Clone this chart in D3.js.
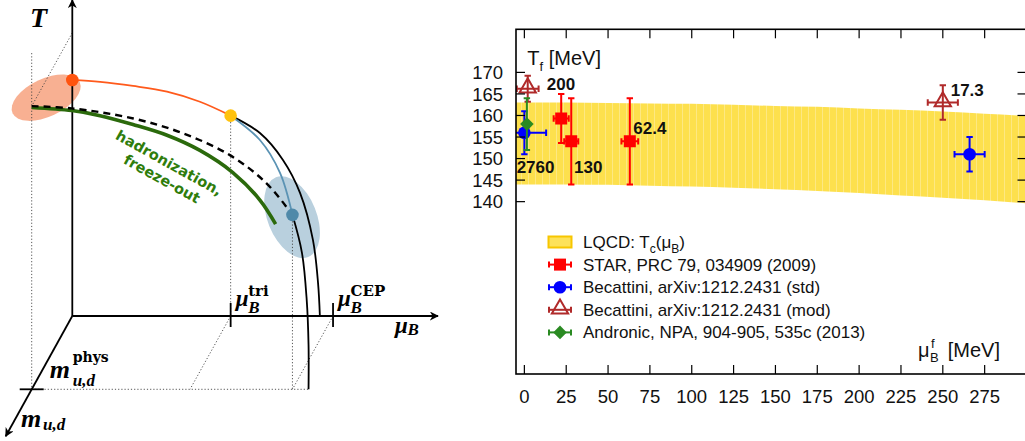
<!DOCTYPE html>
<html>
<head>
<meta charset="utf-8">
<script src="https://cdn.jsdelivr.net/npm/d3@7"></script>
<style>
body { margin: 0; background: #fff; }
svg { display: block; }
</style>
</head>
<body>
<div class="phase-div"></div>
<script>
//--------------------------- Data: right panel (freeze-out points)

var bandMu = [-5, 25, 50, 75, 100, 125, 150, 175, 200, 225, 250, 275, 300];
var bandHi = [163, 163, 162.9, 162.8, 162.7, 162.5, 162.2, 162, 161.6, 161.3, 160.9, 160.4, 159.9];
var bandLo = [144, 144, 143.9, 143.7, 143.5, 143.2, 142.9, 142.5, 142, 141.4, 140.9, 140.3, 139.6];

var starMu = [22, 28, 63];
var starT = [159.3, 154, 154];
var starTErr = [5.7, 10, 10];
var starMuErr = [4.5, 4.2, 5];

var becStdMu = [0, 266];
var becStdT = [156, 151];
var becStdTErr = [5, 4];
var becStdMuErr = [13, 9];

var becModMu = [2, 250];
var becModT = [166.2, 163];
var becModTErr = [3, 4];
var becModMuErr = [6.5, 9];

var andMu = [1.5];
var andT = [158];
var andTErr = [6];
var andMuErr = [0];

var energyText = ["200", "2760", "130", "62.4", "17.3"];
var energyMu = [13.4, -4.6, 29.7, 65.1, 254.7];
var energyT = [165.8, 146.7, 146.7, 155.8, 164.5];

var xTicks = [0, 25, 50, 75, 100, 125, 150, 175, 200, 225, 250, 275];
var yTicks = [140, 145, 150, 155, 160, 165, 170];

var legendNames = ["LQCD", "STAR, PRC 79, 034909 (2009)", "Becattini, arXiv:1212.2431 (std)",
    "Becattini, arXiv:1212.2431 (mod)", "Andronic, NPA, 904-905, 535c (2013)"];

//--------------------------- Data: left panel (schematic, [muB, T, m] in sketch units)

var orangeCurve = [[0, 74.7], [7.6, 74.1], [16.6, 72.8], [25.9, 71.0], [34.9, 67.8], [43.3, 63.4]];
var firstOrderChiral = [[43.3, 63.4], [51.3, 57.9], [57.6, 49.4], [62.3, 38.9], [65.8, 24.1], [67.2, 10.4], [67.7, 0]];
var wingLine = [[43.3, 63.4], [51.3, 55.7], [56.8, 45.3], [60.2, 32.0]];
var crossover = [[0, 89.6, 1], [10.9, 88.9, 1], [27.8, 85.7, 1], [41.4, 81.0, 1], [54.2, 74.1, 1], [64.2, 65.2, 1], [71.3, 55.2, 1]];
var freezeOut = [[0, 89.2, 1], [11.0, 88.2, 1], [18.7, 86.6, 1], [27.7, 83.8, 1], [37.0, 80.4, 1], [46.0, 75.6, 1], [55.0, 68.6, 1], [62.4, 59.9, 1], [66.7, 52.3, 1]];
var firstOrderPhys = [[71.3, 55.2, 1], [73.9, 43.2, 1], [75.2, 28.3, 1], [75.7, 14.1, 1], [75.7, 0, 1]];

var redDot = [0, 74.7, 0];
var yellowDot = [43.3, 63.4, 0];
var blueDot = [71.3, 55.2, 1];
var muTri = 43.3;
var muCEP = 71.3;

//--------------------------- SVG definition

var width = 1025;
var height = 441;

var svg = d3.select("div.phase-div")
    .append("svg")
    .attr("width", width)
    .attr("height", height)

svg.append("rect").attr("width", width).attr("height", height).attr("fill", "#fff");

//=========================== LEFT PANEL

var sx = d3.scaleLinear().domain([0, 100]).range([72.3, 438]);
var sy = d3.scaleLinear().domain([0, 100]).range([316, 0]);
var mx = d3.scaleLinear().domain([0, 1]).range([0, -40.6]);
var my = d3.scaleLinear().domain([0, 1]).range([0, 73.3]);

function proj(p) {
    var m = p[2] || 0;
    return [sx(p[0]) + mx(m), sy(p[1]) + my(m)];
}

var curve = d3.line()
    .x(function (d) { return proj(d)[0]; })
    .y(function (d) { return proj(d)[1]; })
    .curve(d3.curveCatmullRom);

var left = svg.append("g");

var defs = svg.append("defs");
defs.append("marker")
    .attr("id", "arrow")
    .attr("viewBox", "0 0 10 10")
    .attr("refX", 9).attr("refY", 5)
    .attr("markerWidth", 5).attr("markerHeight", 5)
    .attr("orient", "auto")
    .append("path")
    .attr("d", "M0,0 L10,5 L0,10 L3,5 Z")
    .attr("fill", "#000");

//--------------- ellipses (behind everything)

var oc = proj([-1.6, 80.7, 0.5]);
left.append("ellipse")
    .attr("cx", 0).attr("cy", 0).attr("rx", 37).attr("ry", 19)
    .attr("transform", "translate(" + oc[0] + "," + oc[1] + ") rotate(-25)")
    .attr("fill", "#f8b092");

var bc = proj([71.2, 54.5, 1]);
left.append("ellipse")
    .attr("cx", 0).attr("cy", 0).attr("rx", 24.5).attr("ry", 43)
    .attr("transform", "translate(" + bc[0] + "," + bc[1] + ") rotate(-22)")
    .attr("fill", "#b9d0de");

//--------------- dotted guide lines

var dotted = [
    [[0, 89.6, 0], [0, 89.6, 1]],
    [[0, 106.4, 1], [0, 0, 1]],
    [yellowDot, [muTri, 0, 0]],
    [[muTri, 0, 0], [muTri, 0, 1]],
    [blueDot, [muCEP, 0, 1]],
    [[muCEP, 0, 0], [muCEP, 0, 1]],
    [[0, 0, 1], [75.7, 0, 1]]
];
dotted.forEach(function (seg) {
    var a = proj(seg[0]), b = proj(seg[1]);
    left.append("line")
        .attr("x1", a[0]).attr("y1", a[1]).attr("x2", b[0]).attr("y2", b[1])
        .attr("stroke", "#444").attr("stroke-width", 0.9)
        .attr("stroke-dasharray", "1.2,2");
});

//--------------- axes

var o = proj([0, 0, 0]);
var tTop = proj([0, 100, 0]);
var muEnd = proj([100, 0, 0]);
var mEnd = proj([0, 0, 1.64]);

[[o, tTop], [o, muEnd], [o, mEnd]].forEach(function (ax) {
    left.append("line")
        .attr("x1", ax[0][0]).attr("y1", ax[0][1])
        .attr("x2", ax[1][0]).attr("y2", ax[1][1])
        .attr("stroke", "#000").attr("stroke-width", 1.8)
        .attr("marker-end", "url(#arrow)");
});

// ticks on the axes
[muTri, muCEP].forEach(function (mu) {
    var p = proj([mu, 0, 0]);
    left.append("line")
        .attr("x1", p[0]).attr("x2", p[0])
        .attr("y1", p[1] - 13).attr("y2", p[1] + 11)
        .attr("stroke", "#000").attr("stroke-width", 1.8);
});
var pm = proj([0, 0, 1]);
left.append("line")
    .attr("x1", pm[0] - 12).attr("x2", pm[0] + 12)
    .attr("y1", pm[1]).attr("y2", pm[1])
    .attr("stroke", "#000").attr("stroke-width", 1.8);

//--------------- curves

left.append("path").attr("d", curve(freezeOut))
    .attr("fill", "none").attr("stroke", "#2b6a0c").attr("stroke-width", 3.6);

left.append("path").attr("d", curve(crossover))
    .attr("fill", "none").attr("stroke", "#000").attr("stroke-width", 2.4)
    .attr("stroke-dasharray", "7,5");

left.append("path").attr("d", curve(orangeCurve))
    .attr("fill", "none").attr("stroke", "#ff5a1c").attr("stroke-width", 1.8);

left.append("path").attr("d", curve(firstOrderChiral))
    .attr("fill", "none").attr("stroke", "#000").attr("stroke-width", 1.8);

left.append("path").attr("d", curve(firstOrderPhys))
    .attr("fill", "none").attr("stroke", "#000").attr("stroke-width", 1.8);

left.append("path").attr("d", curve(wingLine))
    .attr("fill", "none").attr("stroke", "#5b93b4").attr("stroke-width", 1.8);

//--------------- dots

[[redDot, "#ff5410"], [yellowDot, "#ffc20e"], [blueDot, "#4f89a9"]].forEach(function (d) {
    var p = proj(d[0]);
    left.append("circle").attr("cx", p[0]).attr("cy", p[1]).attr("r", 6.3).attr("fill", d[1]);
});

//--------------- labels

var serif = "'Liberation Serif', 'DejaVu Serif', serif";
var serifUp = "'DejaVu Serif', serif";

left.append("text").attr("x", 30).attr("y", 27)
    .attr("font-family", serif).attr("font-style", "italic").attr("font-weight", "bold")
    .attr("font-size", 28).text("T");

function muLabel(x, y, sup) {
    left.append("text").attr("x", x).attr("y", y)
        .attr("font-family", serif).attr("font-style", "italic").attr("font-weight", "bold")
        .attr("font-size", 23).text("\u03bc");
    var p = x + 12.5;
    left.append("text").attr("x", p).attr("y", y + 7)
        .attr("font-family", serif).attr("font-style", "italic").attr("font-weight", "bold")
        .attr("font-size", 17).text("B");
    if (sup) {
        left.append("text").attr("x", p).attr("y", y - 10)
            .attr("font-family", serifUp).attr("font-weight", "bold")
            .attr("font-size", 15).text(sup);
    }
}
var tp = proj([muTri, 0, 0]);
muLabel(tp[0] + 5, tp[1] - 10, "tri");
var cp = proj([muCEP, 0, 0]);
muLabel(cp[0] + 5, cp[1] - 10, "CEP");

left.append("text").attr("x", 395).attr("y", 333)
    .attr("font-family", serif).attr("font-style", "italic").attr("font-weight", "bold")
    .attr("font-size", 23).text("\u03bc");
left.append("text").attr("x", 407.5).attr("y", 335)
    .attr("font-family", serif).attr("font-style", "italic").attr("font-weight", "bold")
    .attr("font-size", 17).text("B");

// m_{u,d}^{phys}
left.append("text").attr("x", pm[0] + 18).attr("y", pm[1] - 11)
    .attr("font-family", serif).attr("font-style", "italic").attr("font-weight", "bold")
    .attr("font-size", 26).text("m");
left.append("text").attr("x", pm[0] + 41).attr("y", pm[1] - 27)
    .attr("font-family", serifUp).attr("font-weight", "bold")
    .attr("font-size", 14).text("phys");
left.append("text").attr("x", pm[0] + 41).attr("y", pm[1] - 3)
    .attr("font-family", serif).attr("font-style", "italic").attr("font-weight", "bold")
    .attr("font-size", 17).text("u,d");

// m_{u,d}
left.append("text").attr("x", 21).attr("y", 427)
    .attr("font-family", serif).attr("font-style", "italic").attr("font-weight", "bold")
    .attr("font-size", 26).text("m");
left.append("text").attr("x", 43).attr("y", 430)
    .attr("font-family", serif).attr("font-style", "italic").attr("font-weight", "bold")
    .attr("font-size", 17).text("u,d");

// hadronization, freeze-out
left.append("text")
    .attr("transform", "translate(169,163) rotate(29)")
    .attr("text-anchor", "middle").attr("dominant-baseline", "central")
    .attr("font-family", "'DejaVu Sans', sans-serif").attr("font-weight", "bold")
    .attr("font-size", 14.5).attr("fill", "#2f7d0c")
    .text("hadronization,");
left.append("text")
    .attr("transform", "translate(162,179) rotate(29)")
    .attr("text-anchor", "middle").attr("dominant-baseline", "central")
    .attr("font-family", "'DejaVu Sans', sans-serif").attr("font-weight", "bold")
    .attr("font-size", 14.5).attr("fill", "#2f7d0c")
    .text("freeze-out");

//=========================== RIGHT PANEL

var plotL = 516, plotR = 1026.5, plotT = 29.3, plotB = 374;

var x = d3.scaleLinear().domain([-5, 300]).range([plotL, plotR]);
var y = d3.scaleLinear().domain([100, 180]).range([plotB, plotT]);

var sans = "'Liberation Sans', Arial, Helvetica, sans-serif";

defs.append("clipPath").attr("id", "plotclip")
    .append("rect").attr("x", plotL).attr("y", plotT)
    .attr("width", plotR - plotL).attr("height", plotB - plotT);

var pat = defs.append("pattern").attr("id", "bandpat")
    .attr("patternUnits", "userSpaceOnUse").attr("width", 7).attr("height", 10);
pat.append("rect").attr("width", 7).attr("height", 10).attr("fill", "#fde04d");
pat.append("rect").attr("x", 3).attr("width", 1).attr("height", 10).attr("fill", "#fde883");

var right = svg.append("g");
var plot = right.append("g").attr("clip-path", "url(#plotclip)");

//--------------- LQCD band

var bandData = bandMu.map(function (m, i) { return { mu: m, hi: bandHi[i], lo: bandLo[i] }; });
var area = d3.area()
    .x(function (d) { return x(d.mu); })
    .y0(function (d) { return y(d.lo); })
    .y1(function (d) { return y(d.hi); })
    .curve(d3.curveMonotoneX);
plot.append("path").datum(bandData).attr("d", area).attr("fill", "url(#bandpat)");

//--------------- error bars + markers

function series(mu, t, terr, muerr) {
    return mu.map(function (m, i) { return { mu: m, t: t[i], te: terr[i], me: muerr[i] }; });
}

function drawErr(g, data, color) {
    var cap = 3.2;
    data.forEach(function (d) {
        var cx = x(d.mu), cy = y(d.t);
        var y1 = y(d.t + d.te), y2 = y(d.t - d.te);
        g.append("line").attr("x1", cx).attr("x2", cx).attr("y1", y1).attr("y2", y2)
            .attr("stroke", color).attr("stroke-width", 2);
        g.append("line").attr("x1", cx - cap).attr("x2", cx + cap).attr("y1", y1).attr("y2", y1)
            .attr("stroke", color).attr("stroke-width", 2);
        g.append("line").attr("x1", cx - cap).attr("x2", cx + cap).attr("y1", y2).attr("y2", y2)
            .attr("stroke", color).attr("stroke-width", 2);
        if (d.me > 0) {
            var x1 = x(d.mu - d.me), x2 = x(d.mu + d.me);
            g.append("line").attr("x1", x1).attr("x2", x2).attr("y1", cy).attr("y2", cy)
                .attr("stroke", color).attr("stroke-width", 2);
            g.append("line").attr("x1", x1).attr("x2", x1).attr("y1", cy - cap).attr("y2", cy + cap)
                .attr("stroke", color).attr("stroke-width", 2);
            g.append("line").attr("x1", x2).attr("x2", x2).attr("y1", cy - cap).attr("y2", cy + cap)
                .attr("stroke", color).attr("stroke-width", 2);
        }
    });
}

var symSquare = d3.symbol().type(d3.symbolSquare).size(144);
var symCircle = d3.symbol().type(d3.symbolCircle).size(125);
var symTri = d3.symbol().type(d3.symbolTriangle).size(115);
var symDiamond = d3.symbol().type(d3.symbolSquare).size(92);

var star = series(starMu, starT, starTErr, starMuErr);
var becStd = series(becStdMu, becStdT, becStdTErr, becStdMuErr);
var becMod = series(becModMu, becModT, becModTErr, becModMuErr);
var andr = series(andMu, andT, andTErr, andMuErr);

var colStar = "#ff0000", colStd = "#0000ff", colMod = "#b02a2a", colAnd = "#2a8a22";

drawErr(plot, becMod, colMod);
plot.selectAll(".tri").data(becMod).enter().append("path")
    .attr("d", symTri)
    .attr("transform", function (d) { return "translate(" + x(d.mu) + "," + (y(d.t) - 1) + ")"; })
    .attr("fill", "none").attr("stroke", colMod).attr("stroke-width", 2);

drawErr(plot, star, colStar);
plot.selectAll(".sq").data(star).enter().append("path")
    .attr("d", symSquare)
    .attr("transform", function (d) { return "translate(" + x(d.mu) + "," + y(d.t) + ")"; })
    .attr("fill", colStar);

drawErr(plot, becStd, colStd);
plot.selectAll(".ci").data(becStd).enter().append("path")
    .attr("d", symCircle)
    .attr("transform", function (d) { return "translate(" + x(d.mu) + "," + y(d.t) + ")"; })
    .attr("fill", colStd);

drawErr(plot, andr, colAnd);
plot.selectAll(".di").data(andr).enter().append("path")
    .attr("d", symDiamond)
    .attr("transform", function (d) { return "translate(" + x(d.mu) + "," + y(d.t) + ") rotate(45)"; })
    .attr("fill", colAnd);

//--------------- energy labels

energyText.forEach(function (s, i) {
    right.append("text")
        .attr("x", x(energyMu[i])).attr("y", y(energyT[i]))
        .attr("font-family", sans).attr("font-weight", "bold").attr("font-size", 17)
        .attr("fill", "#111").text(s);
});

//--------------- frame and ticks

right.append("rect")
    .attr("x", plotL).attr("y", plotT)
    .attr("width", plotR - plotL).attr("height", plotB - plotT)
    .attr("fill", "none").attr("stroke", "#000").attr("stroke-width", 1.6);

var tl = 9;
xTicks.concat([300]).forEach(function (t) {
    right.append("line").attr("x1", x(t)).attr("x2", x(t)).attr("y1", plotB).attr("y2", plotB - tl)
        .attr("stroke", "#000").attr("stroke-width", 1.2);
    right.append("line").attr("x1", x(t)).attr("x2", x(t)).attr("y1", plotT).attr("y2", plotT + tl)
        .attr("stroke", "#000").attr("stroke-width", 1.2);
});
xTicks.forEach(function (t) {
    right.append("text").attr("x", x(t)).attr("y", 403)
        .attr("text-anchor", "middle").attr("font-family", sans).attr("font-size", 18.5)
        .attr("fill", "#111").text(t);
});
yTicks.forEach(function (t) {
    right.append("line").attr("x1", plotL).attr("x2", plotL + tl).attr("y1", y(t)).attr("y2", y(t))
        .attr("stroke", "#000").attr("stroke-width", 1.2);
    right.append("line").attr("x1", plotR).attr("x2", plotR - tl).attr("y1", y(t)).attr("y2", y(t))
        .attr("stroke", "#000").attr("stroke-width", 1.2);
    right.append("text").attr("x", 503).attr("y", y(t) + 6.6)
        .attr("text-anchor", "end").attr("font-family", sans).attr("font-size", 18.5)
        .attr("fill", "#111").text(t);
});

//--------------- axis titles

var ty = right.append("text").attr("x", 527.3).attr("y", 65)
    .attr("font-family", sans).attr("font-size", 20).attr("fill", "#111");
ty.append("tspan").text("T");
ty.append("tspan").attr("font-size", 13).attr("dy", 6).text("f");
ty.append("tspan").attr("dy", -6).text(" [MeV]");

right.append("text").attr("x", 918).attr("y", 357)
    .attr("font-family", sans).attr("font-size", 20).attr("fill", "#111").text("\u03bc");
right.append("text").attr("x", 930).attr("y", 362)
    .attr("font-family", sans).attr("font-size", 13).attr("fill", "#111").text("B");
right.append("text").attr("x", 931).attr("y", 348)
    .attr("font-family", sans).attr("font-size", 13).attr("fill", "#111").text("f");
right.append("text").attr("x", 1000).attr("y", 357).attr("text-anchor", "end")
    .attr("font-family", sans).attr("font-size", 20).attr("fill", "#111").text("[MeV]");

//--------------- legend

var legY = [242, 264.6, 287.2, 309.8, 332.4];
var legX = 560;
var leg = right.append("g");

leg.append("rect").attr("x", legX - 11.5).attr("y", legY[0] - 5.5).attr("width", 23).attr("height", 11)
    .attr("fill", "#fde25a").attr("stroke", "#f7c600").attr("stroke-width", 2);

var legSyms = [null, [symSquare, colStar, 0, true], [symCircle, colStd, 0, true],
    [symTri, colMod, 0, false], [symDiamond, colAnd, 45, true]];
legSyms.forEach(function (s, i) {
    if (!s) return;
    var cy = legY[i];
    leg.append("line").attr("x1", legX - 11).attr("x2", legX + 11).attr("y1", cy).attr("y2", cy)
        .attr("stroke", s[1]).attr("stroke-width", 2);
    [legX - 11, legX + 11].forEach(function (cx) {
        leg.append("line").attr("x1", cx).attr("x2", cx).attr("y1", cy - 3).attr("y2", cy + 3)
            .attr("stroke", s[1]).attr("stroke-width", 2);
    });
    leg.append("path").attr("d", s[0])
        .attr("transform", "translate(" + legX + "," + (cy - (s[3] ? 0 : 1)) + ") rotate(" + s[2] + ")")
        .attr("fill", s[3] ? s[1] : "none")
        .attr("stroke", s[3] ? "none" : s[1]).attr("stroke-width", 2);
});

var lq = leg.append("text").attr("x", 583).attr("y", legY[0] + 6)
    .attr("font-family", sans).attr("font-size", 17).attr("fill", "#111");
lq.append("tspan").text("LQCD: T");
lq.append("tspan").attr("font-size", 12).attr("dy", 5).text("c");
lq.append("tspan").attr("dy", -5).text("(\u03bc");
lq.append("tspan").attr("font-size", 12).attr("dy", 5).text("B");
lq.append("tspan").attr("dy", -5).text(")");

legendNames.forEach(function (n, i) {
    if (i === 0) return;
    leg.append("text").attr("x", 583).attr("y", legY[i] + 6)
        .attr("font-family", sans).attr("font-size", 17).attr("fill", "#111").text(n);
});
</script>
</body>
</html>
